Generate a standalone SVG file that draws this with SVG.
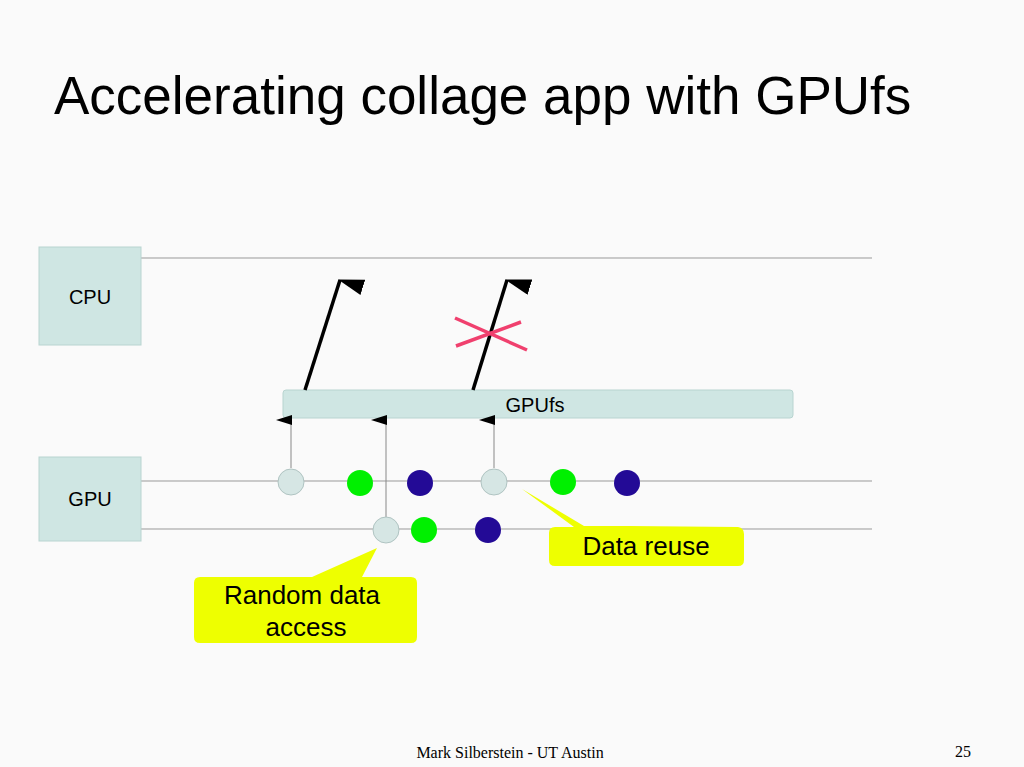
<svg xmlns="http://www.w3.org/2000/svg" width="1024" height="767" viewBox="0 0 1024 767">
<style>
.s{font-family:"Liberation Sans",Arial,sans-serif;fill:#000}
.box{fill:#cfe6e3;stroke:#b8d4d0;stroke-width:1}
.ln{stroke:#999;stroke-width:1}
.thin{stroke:#888;stroke-width:1}
.thick{stroke:#000;stroke-width:3.5}
.lc{fill:#d6e6e4;stroke:#b0c4c2}
.g{fill:#00f000}
.n{fill:#230a96}
.call{fill:#eeff00}
</style>
<defs>
<marker id="a" markerWidth="10" markerHeight="16" refX="5" refY="15" orient="auto" markerUnits="userSpaceOnUse" viewBox="0 0 10 16"><path d="M0,16 L5,0 L10,16Z" fill="#000"/></marker>
<marker id="b" markerWidth="16" markerHeight="26" refX="8" refY="2" orient="auto" markerUnits="userSpaceOnUse" viewBox="0 0 16 26"><path d="M0,26 L8,0 L16,26Z" fill="#000"/></marker>
</defs>
<rect width="1024" height="767" fill="#fafafa"/>
<text class="s" x="54" y="114" font-size="53">Accelerating collage app with GPUfs</text>
<g id="lines">
<line class="ln" x1="141" y1="258" x2="872" y2="258"/>
<line class="ln" x1="141" y1="481" x2="872" y2="481"/>
<line class="ln" x1="141" y1="529" x2="872" y2="529"/>
</g>
<g id="cpu"><rect class="box" x="39" y="247" width="102" height="98"/><text class="s" x="90" y="304" font-size="20" text-anchor="middle">CPU</text></g>
<g id="gpu"><rect class="box" x="39" y="457" width="102" height="84"/><text class="s" x="90" y="506" font-size="20" text-anchor="middle">GPU</text></g>
<g id="gpufs"><rect class="box" x="283" y="390" width="510" height="28" rx="3"/><text class="s" x="535" y="412" font-size="20" text-anchor="middle">GPUfs</text></g>
<g id="connectors">
<line class="thick" x1="305" y1="390" x2="340" y2="280" marker-end="url(#b)"/>
<line class="thick" x1="473" y1="390" x2="507" y2="280" marker-end="url(#b)"/>
<line class="thin" x1="291" y1="468" x2="291" y2="420" marker-end="url(#a)"/>
<line class="thin" x1="386" y1="517" x2="386" y2="420" marker-end="url(#a)"/>
<line class="thin" x1="494" y1="468" x2="494" y2="420" marker-end="url(#a)"/>
</g>
<g id="cross" stroke="#f0406e" stroke-width="3.5"><line x1="455" y1="318" x2="527" y2="350"/><line x1="456" y1="346" x2="521" y2="322"/></g>
<g id="dots">
<circle class="lc" cx="291" cy="482" r="13"/><circle class="g" cx="360" cy="483" r="13"/><circle class="n" cx="420" cy="483" r="13"/>
<circle class="lc" cx="494" cy="482" r="13"/><circle class="g" cx="563" cy="482" r="13"/><circle class="n" cx="627" cy="483" r="13"/>
<circle class="lc" cx="386" cy="530" r="13"/><circle class="g" cx="424" cy="530" r="13"/><circle class="n" cx="488" cy="530" r="13"/>
</g>
<g id="reuse"><path class="call" d="M522,489 L584,526 L630,526 L738,527 Q744,528 744,534 L744,560 Q744,566 738,566 L555,566 Q549,566 549,560 L549,533 Q549,527 555,527 L574,527Z"/><text class="s" x="646" y="555" font-size="26" text-anchor="middle">Data reuse</text></g>
<g id="random"><path class="call" d="M377,548 L362,577 L411,577 Q417,577 417,583 L417,637 Q417,643 411,643 L200,643 Q194,643 194,637 L194,583 Q194,577 200,577 L312,577Z"/><text class="s" x="302" y="604" font-size="26" text-anchor="middle">Random data</text><text class="s" x="306" y="636" font-size="26" text-anchor="middle">access</text></g>
<text x="510" y="758" font-family="Liberation Serif,serif" font-size="16" text-anchor="middle">Mark Silberstein - UT Austin</text>
<text x="963" y="757" font-family="Liberation Serif,serif" font-size="16" text-anchor="middle">25</text>
</svg>
